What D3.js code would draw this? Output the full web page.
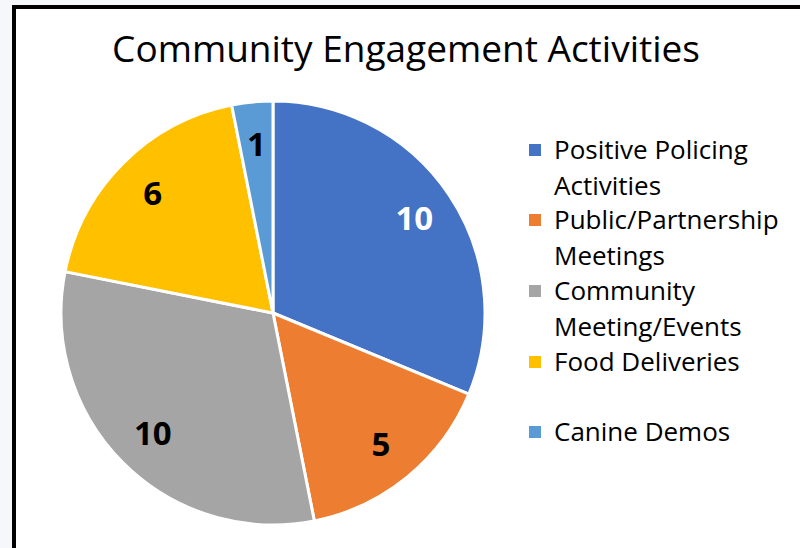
<!DOCTYPE html>
<html>
<head>
<meta charset="utf-8">
<script src="https://cdn.jsdelivr.net/npm/d3@7"></script>
<style>
  html, body { margin: 0; padding: 0; background: #f6f7fb; }
  #chart { width: 800px; height: 548px; overflow: hidden; }
  text { font-family: "Open Sans", "Noto Sans", sans-serif; }
</style>
</head>
<body>
<div id="chart"></div>
<script>
const categories = ["Positive Policing Activities", "Public/Partnership Meetings", "Community Meeting/Events", "Food Deliveries", "Canine Demos"];
const values = [10, 5, 10, 6, 1];
const colors = ["#4472C4", "#ED7D31", "#A5A5A5", "#FFC000", "#5B9BD5"];
const labelColors = ["#ffffff", "#000000", "#000000", "#000000", "#000000"];
// legend lines as wrapped in the original
const legendLines = [["Positive Policing", "Activities"], ["Public/Partnership", "Meetings"], ["Community", "Meeting/Events"], ["Food Deliveries"], ["Canine Demos"]];

const width = 800, height = 548;
const cx = 273, cy = 313, radius = 212;

const svg = d3.select("#chart").append("svg")
  .attr("width", width)
  .attr("height", height);

// white chart area with black frame running past the window
svg.append("rect")
  .attr("x", 14).attr("y", 7)
  .attr("width", 820).attr("height", 600)
  .attr("fill", "#ffffff")
  .attr("stroke", "#000000")
  .attr("stroke-width", 4);

svg.append("text")
  .attr("x", 406).attr("y", 62)
  .attr("text-anchor", "middle")
  .style("font-size", "37px")
  .style("fill", "#000")
  .text("Community Engagement Activities");

const data = categories.map((c, i) => ({ label: c, value: values[i], color: colors[i], labelColor: labelColors[i] }));

const pie = d3.pie().sort(null).value(d => d.value);
const arc = d3.arc().innerRadius(0).outerRadius(radius);
const labelArc = d3.arc().innerRadius(170).outerRadius(170);

const g = svg.append("g").attr("transform", `translate(${cx}, ${cy})`);
const slices = g.selectAll("g.slice").data(pie(data)).enter().append("g");

slices.append("path")
  .attr("d", arc)
  .attr("fill", d => d.data.color)
  .attr("stroke", "#ffffff")
  .attr("stroke-width", 3)
  .attr("stroke-linejoin", "round");

slices.append("text")
  .attr("transform", d => {
    const [x, y] = labelArc.centroid(d);
    return `translate(${x}, ${y})`;
  })
  .attr("text-anchor", "middle")
  .attr("dy", "0.36em")
  .style("font-size", "33px")
  .style("font-weight", "bold")
  .style("fill", d => d.data.labelColor)
  .text(d => d.data.value);

// legend
const legendY = [150, 220, 291, 362, 432];
const legend = svg.selectAll("g.legend").data(data).enter().append("g")
  .attr("transform", (d, i) => `translate(529, ${legendY[i]})`);

legend.append("rect")
  .attr("x", 0).attr("y", -6)
  .attr("width", 12).attr("height", 12)
  .attr("fill", d => d.color);

legend.append("text")
  .attr("x", 25)
  .style("font-size", "26px")
  .style("fill", "#000")
  .selectAll("tspan")
  .data((d, i) => legendLines[i])
  .enter().append("tspan")
  .attr("x", 25)
  .attr("y", (t, j) => j * 36)
  .attr("dy", "0.35em")
  .text(t => t);
</script>
</body>
</html>
